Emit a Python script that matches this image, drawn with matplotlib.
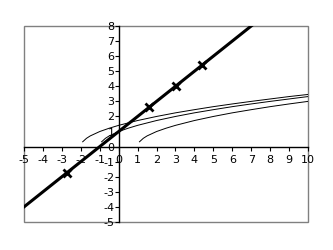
import matplotlib
matplotlib.use("Agg")
import matplotlib.pyplot as plt
from matplotlib.patches import Rectangle

plt.rcParams['axes.unicode_minus'] = False

# thick straight line
line_x = [-5, -3, -1, 0, 1, 3, 5, 7, 7.4]
line_y = [-4, -2, 0, 1, 2, 4, 6, 8, 8.4]
mark_x = [-2.75, 1.6, 3.05, 4.4]
mark_y = [-1.75, 2.6, 4.05, 5.4]

# three thin curves
c1_x = [-1.9, -1.7, -1.5, -1, -0.5, 0, 1, 2, 3, 4, 5, 6, 7, 8, 9, 10]
c1_y = [0.32, 0.55, 0.71, 1.0, 1.22, 1.41, 1.73, 2.0, 2.24, 2.45, 2.65, 2.83, 3.0, 3.16, 3.32, 3.46]
c2_x = [-0.9, -0.7, -0.5, 0, 0.5, 1, 2, 3, 4, 5, 6, 7, 8, 9, 10]
c2_y = [0.32, 0.55, 0.71, 1.0, 1.22, 1.41, 1.73, 2.0, 2.24, 2.45, 2.65, 2.83, 3.0, 3.16, 3.32]
c3_x = [1.1, 1.3, 1.5, 2, 2.5, 3, 4, 5, 6, 7, 8, 9, 10]
c3_y = [0.32, 0.55, 0.71, 1.0, 1.22, 1.41, 1.73, 2.0, 2.24, 2.45, 2.65, 2.83, 3.0]

xticks = list(range(-5, 11))
yticks = list(range(-5, 9))

fig = plt.figure(figsize=(3.33, 2.5), dpi=100)
ax = fig.add_axes([0.072, 0.112, 0.853, 0.784])

for cx, cy in [(c1_x, c1_y), (c2_x, c2_y), (c3_x, c3_y)]:
    ax.plot(cx, cy, color='black', lw=0.7)
ax.plot(line_x, line_y, color='black', lw=2.2)
ax.plot(mark_x, mark_y, 'x', color='black', ms=5.5, mew=2)

ax.set_xlim(-5, 10)
ax.set_ylim(-5, 8)
ax.spines['left'].set_position(('data', 0))
ax.spines['bottom'].set_position(('data', 0))
ax.spines['top'].set_visible(False)
ax.spines['right'].set_visible(False)
for s in ['left', 'bottom']:
    ax.spines[s].set_linewidth(1)
ax.add_patch(Rectangle((0, 0), 1, 1, transform=ax.transAxes, fill=False,
                       edgecolor='#808080', lw=1, clip_on=False))
ax.set_xticks(xticks)
ax.set_yticks(yticks)
ax.tick_params(direction='out', length=3, width=0.8, labelsize=8)
ax.tick_params(axis='x', pad=3)
ax.tick_params(axis='y', pad=0)

fig.savefig('out.png', dpi=100)
